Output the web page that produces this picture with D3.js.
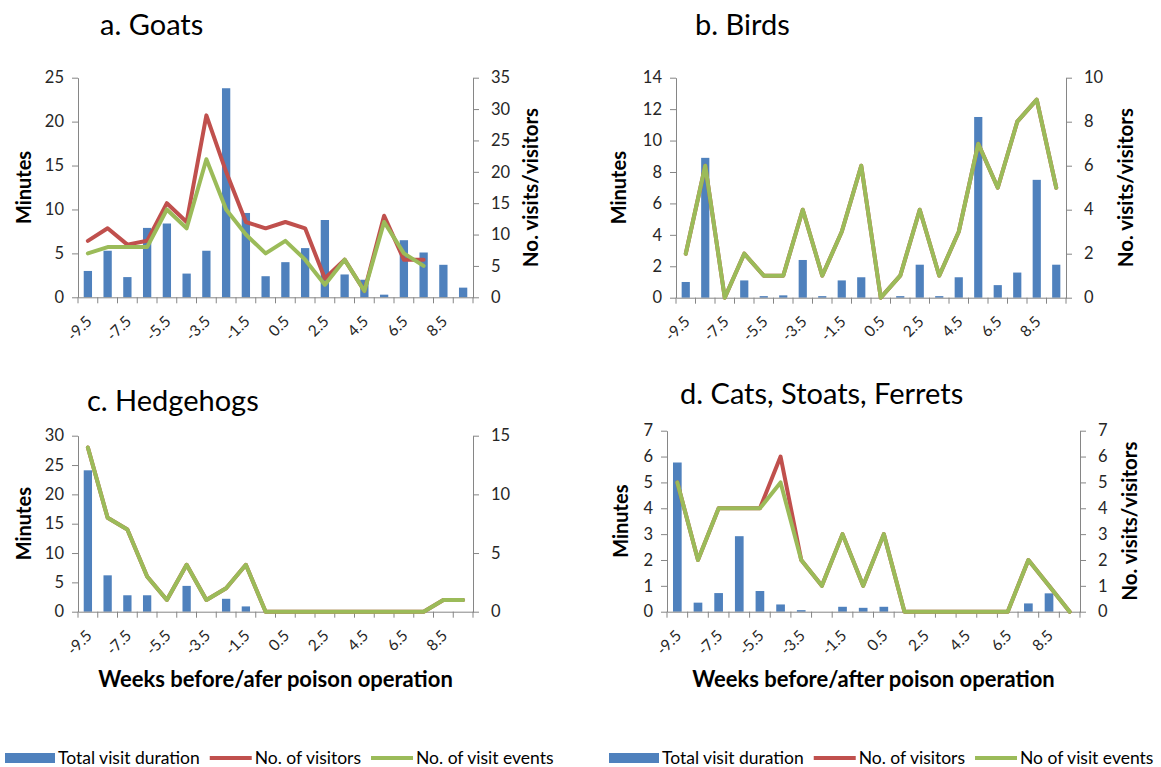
<!DOCTYPE html>
<html>
<head>
<meta charset="utf-8">
<script src="https://cdn.jsdelivr.net/npm/d3@7"></script>
<style>
  body { margin: 0; background: #fff; }
  svg text { font-family: Lato, "Liberation Sans", sans-serif; }
</style>
</head>
<body>
<svg id="chart" width="1161" height="767"></svg>
<script>
// weeks before/after the poison operation (one category per week)
const weeks = [-9.5, -8.5, -7.5, -6.5, -5.5, -4.5, -3.5, -2.5, -1.5, -0.5,
               0.5, 1.5, 2.5, 3.5, 4.5, 5.5, 6.5, 7.5, 8.5, 9.5];
const weekTickLabels = [-9.5, -7.5, -5.5, -3.5, -1.5, 0.5, 2.5, 4.5, 6.5, 8.5];

// a. Goats
const goatsMinutes  = [3.0, 5.3, 2.3, 7.9, 8.4, 2.7, 5.3, 23.8, 9.6, 2.4, 4.0, 5.6, 8.8, 2.6, 2.0, 0.3, 6.5, 5.1, 3.7, 1.1];
const goatsVisitors = [9, 11, 8.4, 9, 15, 12, 29, 20, 12, 11, 12, 11, 3, 6, 1, 13, 6, 6, null, null];
const goatsEvents   = [7, 8, 8, 8, 14, 11, 22, 14, 10, 7, 9, 6, 2, 6, 1, 12, 7, 5, null, null];
const goatsMinuteTicks = [0, 5, 10, 15, 20, 25];
const goatsCountTicks  = [0, 5, 10, 15, 20, 25, 30, 35];

// b. Birds
const birdsMinutes  = [1.0, 8.9, 0, 1.1, 0.1, 0.15, 2.4, 0.1, 1.1, 1.3, 0, 0.1, 2.1, 0.1, 1.3, 11.5, 0.8, 1.6, 7.5, 2.1];
const birdsVisitors = [2, 6, 0, 2, 1, 1, 4, 1, 3, 6, 0, 1, 4, 1, 3, 7, 5, 8, 9, 5];
const birdsEvents   = [2, 6, 0, 2, 1, 1, 4, 1, 3, 6, 0, 1, 4, 1, 3, 7, 5, 8, 9, 5];
const birdsMinuteTicks = [0, 2, 4, 6, 8, 10, 12, 14];
const birdsCountTicks  = [0, 2, 4, 6, 8, 10];

// c. Hedgehogs
const hedgehogsMinutes  = [24.1, 6.2, 2.8, 2.8, 0, 4.4, 0, 2.2, 0.9, 0, 0, 0, 0, 0, 0, 0, 0, 0, 0, 0];
const hedgehogsVisitors = [14, 8, 7, 3, 1, 4, 1, 2, 4, 0, 0, 0, 0, 0, 0, 0, 0, 0, 1, 1];
const hedgehogsEvents   = [14, 8, 7, 3, 1, 4, 1, 2, 4, 0, 0, 0, 0, 0, 0, 0, 0, 0, 1, 1];
const hedgehogsMinuteTicks = [0, 5, 10, 15, 20, 25, 30];
const hedgehogsCountTicks  = [0, 5, 10, 15];

// d. Cats, Stoats, Ferrets
const predatorsMinutes  = [5.77, 0.35, 0.72, 2.92, 0.8, 0.28, 0.06, 0, 0.19, 0.15, 0.19, 0, 0, 0, 0, 0, 0, 0.32, 0.71, 0];
const predatorsVisitors = [5, 2, 4, 4, 4, 6, 2, 1, 3, 1, 3, 0, 0, 0, 0, 0, 0, 2, 1, 0];
const predatorsEvents   = [5, 2, 4, 4, 4, 5, 2, 1, 3, 1, 3, 0, 0, 0, 0, 0, 0, 2, 1, 0];
const predatorsMinuteTicks = [0, 1, 2, 3, 4, 5, 6, 7];
const predatorsCountTicks  = [0, 1, 2, 3, 4, 5, 6, 7];

const BLUE = "#4F81BD";
const RED = "#C0504D";
const GREEN = "#9BBB59";
const AXIS = "#868686";
const TICK_TEXT = "#262626";

const panels = [
    {
        title: "a. Goats", titleX: 100, titleY: 35,
        minutes: goatsMinutes, visitors: goatsVisitors, events: goatsEvents,
        leftTicks: goatsMinuteTicks, rightTicks: goatsCountTicks,
        left: 78, right: 473, top: 77.7, bottom: 297.3,
        minutesX: 24, countTitleX: 531, xTitle: null
    },
    {
        title: "b. Birds", titleX: 695, titleY: 35,
        minutes: birdsMinutes, visitors: birdsVisitors, events: birdsEvents,
        leftTicks: birdsMinuteTicks, rightTicks: birdsCountTicks,
        left: 676, right: 1066, top: 77.7, bottom: 297.7,
        minutesX: 619, countTitleX: 1126, xTitle: null
    },
    {
        title: "c. Hedgehogs", titleX: 87, titleY: 411,
        minutes: hedgehogsMinutes, visitors: hedgehogsVisitors, events: hedgehogsEvents,
        leftTicks: hedgehogsMinuteTicks, rightTicks: hedgehogsCountTicks,
        left: 78, right: 473, top: 435.7, bottom: 611.7,
        minutesX: 24, countTitleX: null, xTitle: "Weeks before/afer poison operation", xTitleY: 687
    },
    {
        title: "d. Cats, Stoats, Ferrets", titleX: 680, titleY: 404,
        minutes: predatorsMinutes, visitors: predatorsVisitors, events: predatorsEvents,
        leftTicks: predatorsMinuteTicks, rightTicks: predatorsCountTicks,
        left: 667, right: 1080, top: 430.7, bottom: 611.7,
        minutesX: 621, countTitleX: 1130, xTitle: "Weeks before/after poison operation", xTitleY: 687
    }
];

const svg = d3.select("#chart");
svg.append("rect").attr("width", 1161).attr("height", 767).attr("fill", "#fff");

panels.forEach(p => drawPanel(p));
drawLegend(5, ["Total visit duration", "No. of visitors", "No. of visit events"]);
drawLegend(609, ["Total visit duration", "No. of visitors", "No of visit events"]);

function drawPanel(p) {
    let g = svg.append("g");

    let x = d3.scaleBand()
        .domain(weeks)
        .range([p.left, p.right])
        .padding(0);
    let yMin = d3.scaleLinear()
        .domain([0, d3.max(p.leftTicks)])
        .range([p.bottom, p.top]);
    let yCount = d3.scaleLinear()
        .domain([0, d3.max(p.rightTicks)])
        .range([p.bottom, p.top]);

    let rows = weeks.map((w, i) => ({
        week: w,
        minutes: p.minutes[i],
        visitors: p.visitors[i],
        events: p.events[i]
    }));

    // bars
    let barW = x.bandwidth() * 0.42;
    g.selectAll(".bar")
        .data(rows)
        .join("rect")
        .attr("class", "bar")
        .attr("x", d => x(d.week) + (x.bandwidth() - barW) / 2)
        .attr("y", d => yMin(d.minutes))
        .attr("width", barW)
        .attr("height", d => yMin(0) - yMin(d.minutes))
        .attr("fill", BLUE);

    // left axis
    let gLeft = g.append("g")
        .attr("transform", `translate(${p.left},0)`)
        .call(d3.axisLeft(yMin).tickValues(p.leftTicks).tickFormat(d => d)
            .tickSize(6).tickSizeOuter(0).tickPadding(8));
    // right axis
    let gRight = g.append("g")
        .attr("transform", `translate(${p.right},0)`)
        .call(d3.axisRight(yCount).tickValues(p.rightTicks).tickFormat(d => d)
            .tickSize(6).tickSizeOuter(0).tickPadding(12));

    // bottom axis: labels every second week, tick marks at category boundaries
    let gBottom = g.append("g")
        .attr("transform", `translate(0,${p.bottom})`)
        .call(d3.axisBottom(x).tickValues(weekTickLabels).tickSize(0).tickSizeOuter(0)
            .tickFormat(d => d.toFixed(1)));
    gBottom.selectAll(".tick text")
        .attr("y", 0)
        .attr("dy", 0)
        .attr("text-anchor", "end")
        .attr("transform", "translate(5,25) rotate(-45)");
    gBottom.selectAll(".boundary")
        .data(d3.range(weeks.length + 1))
        .join("line")
        .attr("class", "boundary")
        .attr("x1", i => p.left + i * x.step())
        .attr("x2", i => p.left + i * x.step())
        .attr("y1", 0)
        .attr("y2", 6)
        .attr("stroke", AXIS);

    [gLeft, gRight, gBottom].forEach(a => {
        a.select(".domain").attr("stroke", AXIS);
        a.selectAll(".tick line").attr("stroke", AXIS);
        a.selectAll(".tick text")
            .attr("fill", TICK_TEXT)
            .style("font-size", "16.5px")
            .style("font-family", "Lato, sans-serif");
    });
    gBottom.selectAll(".tick text").style("font-size", "15.5px");

    // lines: visitors (red) under visit events (green)
    let lineVisitors = d3.line()
        .defined(d => d.visitors != null)
        .x(d => x(d.week) + x.bandwidth() / 2)
        .y(d => yCount(d.visitors));
    let lineEvents = d3.line()
        .defined(d => d.events != null)
        .x(d => x(d.week) + x.bandwidth() / 2)
        .y(d => yCount(d.events));

    g.append("path")
        .datum(rows)
        .attr("d", lineVisitors)
        .attr("fill", "none")
        .attr("stroke", RED)
        .attr("stroke-width", 4)
        .attr("stroke-linejoin", "round")
        .attr("stroke-linecap", "round");
    g.append("path")
        .datum(rows)
        .attr("d", lineEvents)
        .attr("fill", "none")
        .attr("stroke", GREEN)
        .attr("stroke-width", 4)
        .attr("stroke-linejoin", "round")
        .attr("stroke-linecap", "round");

    // titles
    g.append("text")
        .attr("x", p.titleX)
        .attr("y", p.titleY)
        .attr("font-size", "29px")
        .attr("fill", "#000")
        .text(p.title);

    let midY = (p.top + p.bottom) / 2;
    g.append("text")
        .attr("transform", `translate(${p.minutesX},${midY}) rotate(-90)`)
        .attr("text-anchor", "middle")
        .attr("dy", "0.35em")
        .attr("font-size", "20px")
        .attr("font-weight", "bold")
        .text("Minutes");

    if (p.countTitleX) {
        g.append("text")
            .attr("transform", `translate(${p.countTitleX},${midY}) rotate(-90)`)
            .attr("text-anchor", "middle")
            .attr("dy", "0.35em")
            .attr("font-size", "20.5px")
            .attr("font-weight", "bold")
            .text("No. visits/visitors");
    }

    if (p.xTitle) {
        g.append("text")
            .attr("x", (p.left + p.right) / 2)
            .attr("y", p.xTitleY)
            .attr("text-anchor", "middle")
            .attr("font-size", "22px")
            .attr("font-weight", "bold")
            .text(p.xTitle);
    }
}

function drawLegend(x0, labels) {
    let g = svg.append("g").attr("transform", `translate(${x0},758)`);
    let cx = 0;
    labels.forEach((label, i) => {
        if (i == 0) {
            g.append("rect")
                .attr("x", cx).attr("y", -5)
                .attr("width", 50).attr("height", 10)
                .attr("fill", BLUE);
        } else {
            g.append("line")
                .attr("x1", cx).attr("x2", cx + 42)
                .attr("y1", 0).attr("y2", 0)
                .attr("stroke", i == 1 ? RED : GREEN)
                .attr("stroke-width", 4);
        }
        cx += (i == 0 ? 53 : 45);
        let t = g.append("text")
            .attr("x", cx)
            .attr("y", 0)
            .attr("dy", "0.35em")
            .attr("font-size", "17.5px")
            .attr("fill", "#000")
            .text(label);
        cx += t.node().getComputedTextLength() + 10;
    });
}
</script>
</body>
</html>
